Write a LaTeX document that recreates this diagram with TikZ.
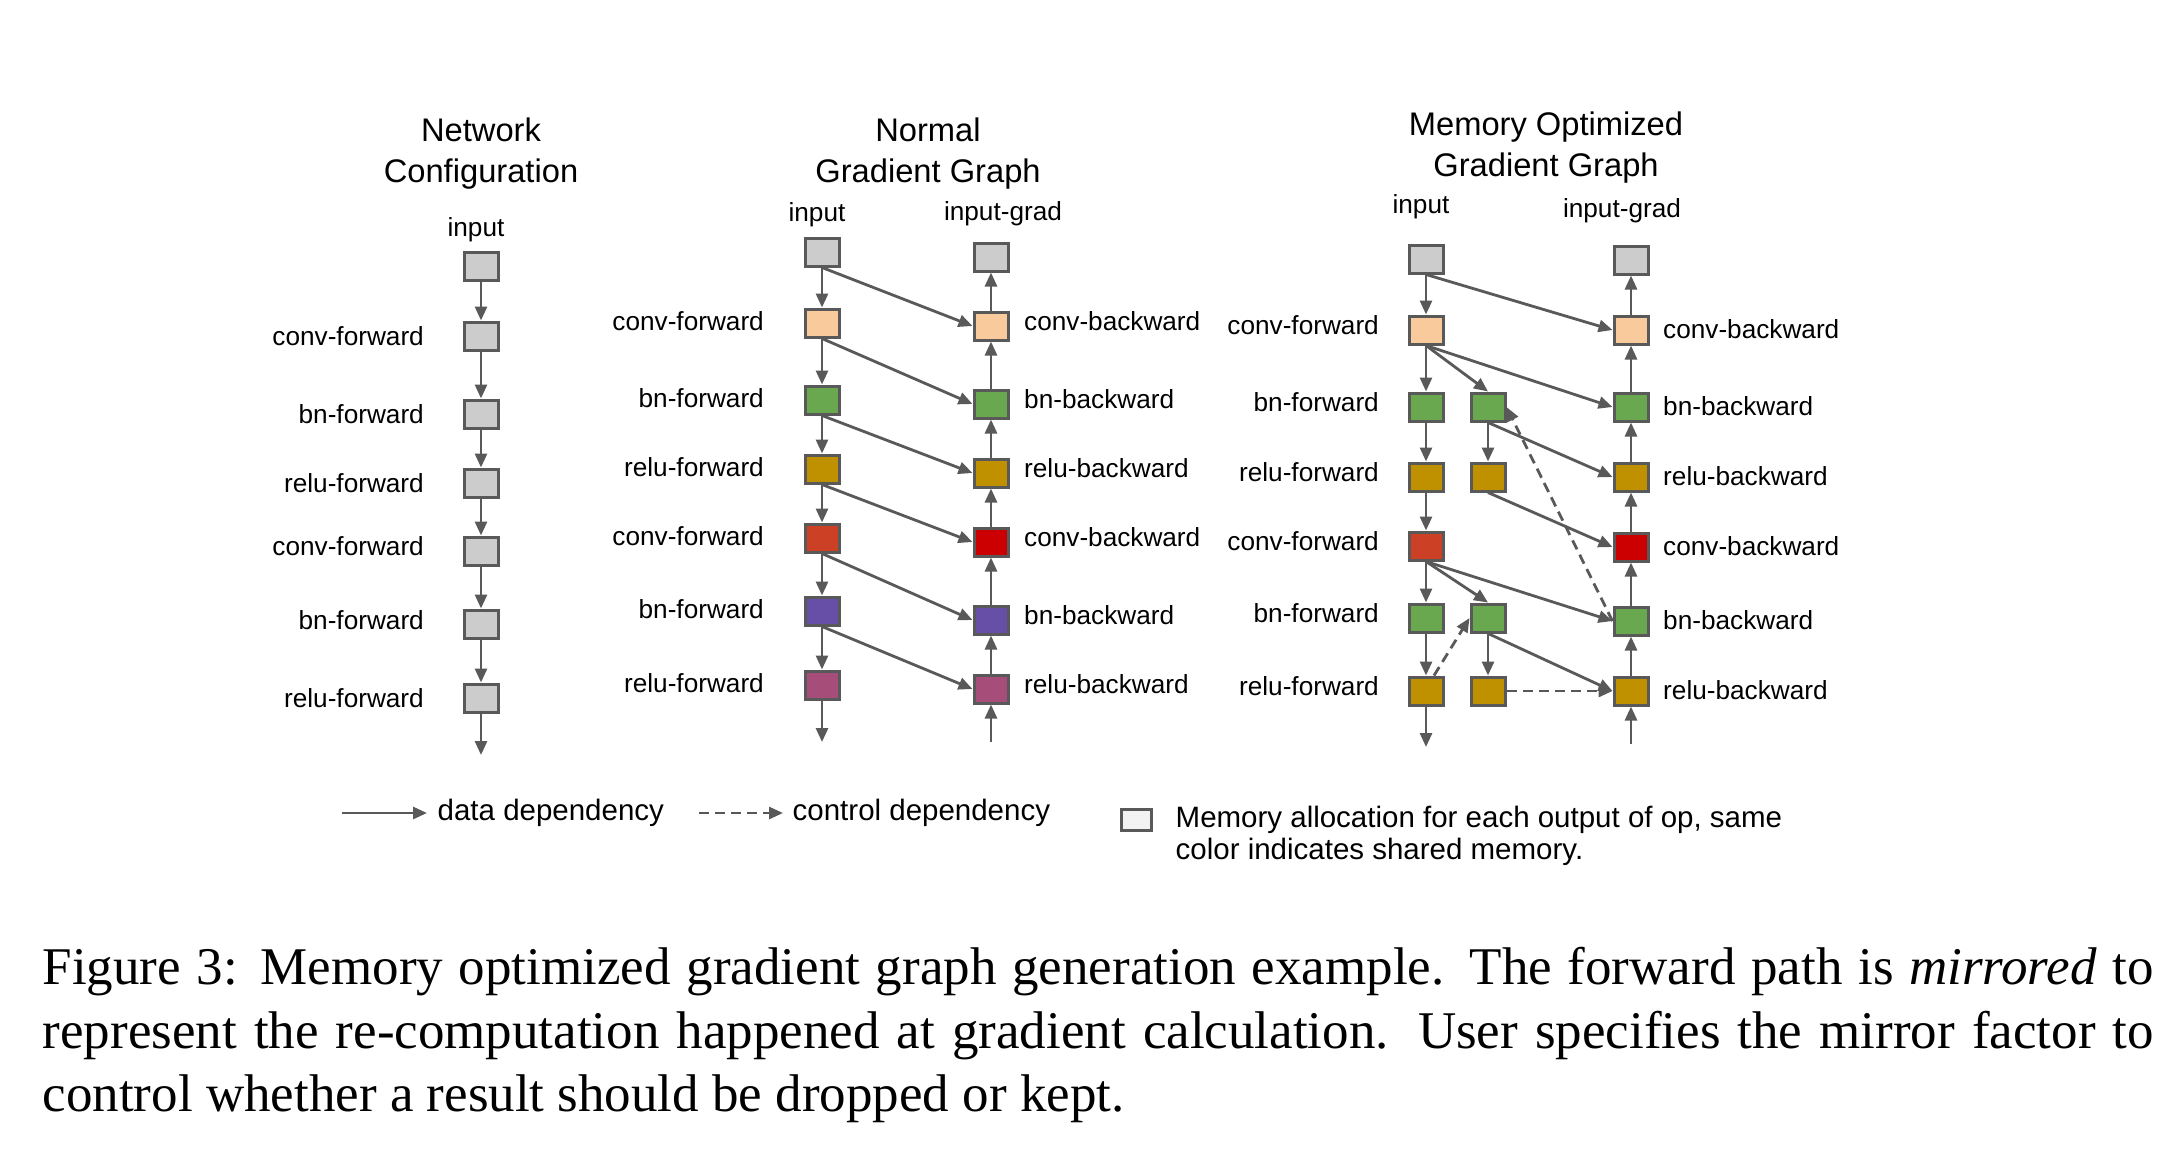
\documentclass[tikz,border=0pt]{standalone}
\usepackage{fontspec}
\setmainfont{Liberation Serif}
\setsansfont{Liberation Sans}
\usetikzlibrary{arrows.meta}
\pgfdeclarelayer{bg}
\pgfsetlayers{bg,main}
\definecolor{edgegray}{HTML}{595959}
\definecolor{boxgray}{HTML}{CCCCCC}
\definecolor{peach}{HTML}{F9CB9C}
\definecolor{leaf}{HTML}{6AA84F}
\definecolor{gold}{HTML}{BF9000}
\definecolor{rust}{HTML}{CC4125}
\definecolor{deepred}{HTML}{CC0000}
\definecolor{violet}{HTML}{674EA7}
\definecolor{plum}{HTML}{A64D79}
\definecolor{paper}{HTML}{F3F3F3}

\begin{document}
\begin{tikzpicture}[font=\sffamily\fontsize{7.45}{9}\selectfont,
    op/.style={draw=edgegray, fill=#1, line width=0.03cm, minimum width=0.34cm, minimum height=0.28cm, inner sep=0pt},
    dep/.style={draw=edgegray, line width=0.028cm, -{Triangle[length=0.14cm, width=0.12cm]}},
    ctrl/.style={dep, dash pattern=on 0.1cm off 0.06cm},
    every label/.style={inner sep=0pt},
    netlab/.style={label={[label distance=0.38cm]left:#1}},
    fwdlab/.style={label={[label distance=0.39cm, yshift=0.02cm]left:#1}},
    bwdlab/.style={label={[label distance=0.14cm, yshift=0.05cm]right:#1}},
    optfwdlab/.style={label={[label distance=0.28cm, yshift=0.05cm]left:#1}},
    optbwdlab/.style={label={[label distance=0.13cm, yshift=0.01cm]right:#1}},
    title/.style={align=center, inner sep=0pt, font=\sffamily\fontsize{9.3}{11.6}\selectfont}]
    \useasboundingbox (0cm, 0cm) rectangle (21.82cm, -11.54cm);

    % network configuration
    \node (ttl1) [title] at (4.81cm, -1.535cm) {Network\\Configuration};
    \node (ni) [op=boxgray, label={[label distance=0.08cm, xshift=-0.05cm]above:input}] at (4.81cm, -2.66cm) {};
    \node (nc1) [op=boxgray, netlab=conv-forward] at (4.81cm, -3.36cm) {};
    \node (nb1) [op=boxgray, netlab=bn-forward] at (4.81cm, -4.14cm) {};
    \node (nr1) [op=boxgray, netlab=relu-forward] at (4.81cm, -4.83cm) {};
    \node (nc2) [op=boxgray, label={[label distance=0.38cm, yshift=0.05cm]left:conv-forward}] at (4.81cm, -5.51cm) {};
    \node (nb2) [op=boxgray, label={[label distance=0.38cm, yshift=0.04cm]left:bn-forward}] at (4.81cm, -6.24cm) {};
    \node (nr2) [op=boxgray, netlab=relu-forward] at (4.81cm, -6.98cm) {};
    \coordinate (ne) at (4.81cm, -7.55cm);

    % normal gradient graph
    \node (ttl2) [title] at (9.28cm, -1.535cm) {Normal\\Gradient Graph};
    \node (fi) [op=boxgray, label={[label distance=0.09cm, xshift=-0.05cm]above:input}] at (8.22cm, -2.52cm) {};
    \node (fc1) [op=peach, fwdlab=conv-forward] at (8.22cm, -3.23cm) {};
    \node (fb1) [op=leaf, fwdlab=bn-forward] at (8.22cm, -4.00cm) {};
    \node (fr1) [op=gold, fwdlab=relu-forward] at (8.22cm, -4.69cm) {};
    \node (fc2) [op=rust, fwdlab=conv-forward] at (8.22cm, -5.38cm) {};
    \node (fb2) [op=violet, fwdlab=bn-forward] at (8.22cm, -6.11cm) {};
    \node (fr2) [op=plum, fwdlab=relu-forward] at (8.22cm, -6.85cm) {};
    \coordinate (fe) at (8.22cm, -7.42cm);
    \node (gi) [op=boxgray, label={[label distance=0.15cm, xshift=0.12cm]above:input-grad}] at (9.91cm, -2.57cm) {};
    \node (gc1) [op=peach, bwdlab=conv-backward] at (9.91cm, -3.26cm) {};
    \node (gb1) [op=leaf, bwdlab=bn-backward] at (9.91cm, -4.04cm) {};
    \node (gr1) [op=gold, bwdlab=relu-backward] at (9.91cm, -4.73cm) {};
    \node (gc2) [op=deepred, bwdlab=conv-backward] at (9.91cm, -5.42cm) {};
    \node (gb2) [op=violet, bwdlab=bn-backward] at (9.91cm, -6.20cm) {};
    \node (gr2) [op=plum, bwdlab=relu-backward] at (9.91cm, -6.89cm) {};
    \coordinate (gs) at (9.91cm, -7.42cm);

    % memory optimized gradient graph
    \node (ttl3) [title] at (15.46cm, -1.475cm) {Memory Optimized\\Gradient Graph};
    \node (mi) [op=boxgray, label={[label distance=0.24cm, xshift=-0.05cm]above:input}] at (14.26cm, -2.59cm) {};
    \node (mc1) [op=peach, optfwdlab=conv-forward] at (14.26cm, -3.30cm) {};
    \node (mb1) [op=leaf, optfwdlab=bn-forward] at (14.26cm, -4.07cm) {};
    \node (mr1) [op=gold, optfwdlab=relu-forward] at (14.26cm, -4.77cm) {};
    \node (mc2) [op=rust, optfwdlab=conv-forward] at (14.26cm, -5.46cm) {};
    \node (mb2) [op=leaf, optfwdlab=bn-forward] at (14.26cm, -6.18cm) {};
    \node (mr2) [op=gold, optfwdlab=relu-forward] at (14.26cm, -6.91cm) {};
    \coordinate (me) at (14.26cm, -7.47cm);
    \node (xb1) [op=leaf] at (14.88cm, -4.07cm) {};
    \node (xr1) [op=gold] at (14.88cm, -4.77cm) {};
    \node (xb2) [op=leaf] at (14.88cm, -6.18cm) {};
    \node (xr2) [op=gold] at (14.88cm, -6.91cm) {};
    \node (hi) [op=boxgray, label={[label distance=0.21cm, xshift=-0.09cm]above:input-grad}] at (16.31cm, -2.60cm) {};
    \node (hc1) [op=peach, optbwdlab=conv-backward] at (16.31cm, -3.30cm) {};
    \node (hb1) [op=leaf, optbwdlab=bn-backward] at (16.31cm, -4.07cm) {};
    \node (hr1) [op=gold, optbwdlab=relu-backward] at (16.31cm, -4.77cm) {};
    \node (hc2) [op=deepred, optbwdlab=conv-backward] at (16.31cm, -5.47cm) {};
    \node (hb2) [op=leaf, optbwdlab=bn-backward] at (16.31cm, -6.21cm) {};
    \node (hr2) [op=gold, optbwdlab=relu-backward] at (16.31cm, -6.91cm) {};
    \coordinate (hs) at (16.31cm, -7.44cm);

    % legend
    \coordinate (ls) at (3.42cm, -8.13cm);
    \coordinate (le) at (4.27cm, -8.13cm);
    \node (tdata) [anchor=west, inner sep=0pt, font=\sffamily\fontsize{8.39}{9.25}\selectfont] at (4.37cm, -8.13cm) {data dependency};
    \coordinate (cs) at (6.99cm, -8.13cm);
    \coordinate (ce) at (7.83cm, -8.13cm);
    \node (tctrl) [anchor=west, inner sep=0pt, font=\sffamily\fontsize{8.39}{9.25}\selectfont] at (7.92cm, -8.13cm) {control dependency};
    \node (lbox) [draw=edgegray, fill=paper, line width=0.03cm, minimum width=0.30cm, minimum height=0.21cm, inner sep=0pt] at (11.36cm, -8.20cm) {};
    \node (tmem) [anchor=north west, align=left, inner sep=0pt, font=\sffamily\fontsize{8.39}{9.25}\selectfont] at (11.75cm, -8.05cm) {Memory allocation for each output of op, same\\color indicates shared memory.};

    % caption
    \node (cap) [anchor=north west, text width=21.11cm, align=justify, inner sep=0pt, font=\rmfamily\fontsize{15.08}{18.2}\selectfont] at (0.42cm, -9.46cm) {Figure 3: Memory optimized gradient graph generation example. The forward path is \emph{mirrored} to\linebreak represent the re-computation happened at gradient calculation. User specifies the mirror factor to\linebreak control whether a result should be dropped or kept.};

    \begin{pgfonlayer}{bg}
        \draw (ni) edge[dep] (nc1);
        \draw (nc1) edge[dep] (nb1);
        \draw (nb1) edge[dep] (nr1);
        \draw (nr1) edge[dep] (nc2);
        \draw (nc2) edge[dep] (nb2);
        \draw (nb2) edge[dep] (nr2);
        \draw (nr2) edge[dep] (ne);

        \draw (fi) edge[dep] (fc1);
        \draw (fc1) edge[dep] (fb1);
        \draw (fb1) edge[dep] (fr1);
        \draw (fr1) edge[dep] (fc2);
        \draw (fc2) edge[dep] (fb2);
        \draw (fb2) edge[dep] (fr2);
        \draw (fr2) edge[dep] (fe);
        \draw (gs) edge[dep] (gr2);
        \draw (gr2) edge[dep] (gb2);
        \draw (gb2) edge[dep] (gc2);
        \draw (gc2) edge[dep] (gr1);
        \draw (gr1) edge[dep] (gb1);
        \draw (gb1) edge[dep] (gc1);
        \draw (gc1) edge[dep] (gi);
        \draw (fi.south) edge[dep] (gc1.west);
        \draw (fc1.south) edge[dep] (gb1.west);
        \draw (fb1.south) edge[dep] (gr1.west);
        \draw (fr1.south) edge[dep] (gc2.west);
        \draw (fc2.south) edge[dep] (gb2.west);
        \draw (fb2.south) edge[dep] (gr2.west);

        \draw (mi) edge[dep] (mc1);
        \draw (mc1) edge[dep] (mb1);
        \draw (mb1) edge[dep] (mr1);
        \draw (mr1) edge[dep] (mc2);
        \draw (mc2) edge[dep] (mb2);
        \draw (mb2) edge[dep] (mr2);
        \draw (mr2) edge[dep] (me);
        \draw (xb1) edge[dep] (xr1);
        \draw (xb2) edge[dep] (xr2);
        \draw (hs) edge[dep] (hr2);
        \draw (hr2) edge[dep] (hb2);
        \draw (hb2) edge[dep] (hc2);
        \draw (hc2) edge[dep] (hr1);
        \draw (hr1) edge[dep] (hb1);
        \draw (hb1) edge[dep] (hc1);
        \draw (hc1) edge[dep] (hi);
        \draw (mi.south) edge[dep] (hc1.west);
        \draw (mc1.south) edge[dep] (xb1.north);
        \draw (mc1.south) edge[dep] (hb1.west);
        \draw (xb1.south) edge[dep] (hr1.west);
        \draw (xr1.south) edge[dep] (hc2.west);
        \draw (mc2.south) edge[dep] (xb2.north);
        \draw (mc2.south) edge[dep] (hb2.west);
        \draw (xb2.south) edge[dep] (hr2.west);
        \draw (hb2.west) edge[ctrl] (xb1.east);
        \draw ([xshift=0.08cm]mr2.north) edge[ctrl] (xb2.west);
        \draw (xr2) edge[ctrl] (hr2);

        \draw (ls) edge[dep] (le);
        \draw (cs) edge[ctrl] (ce);
    \end{pgfonlayer}
\end{tikzpicture}
\end{document}
